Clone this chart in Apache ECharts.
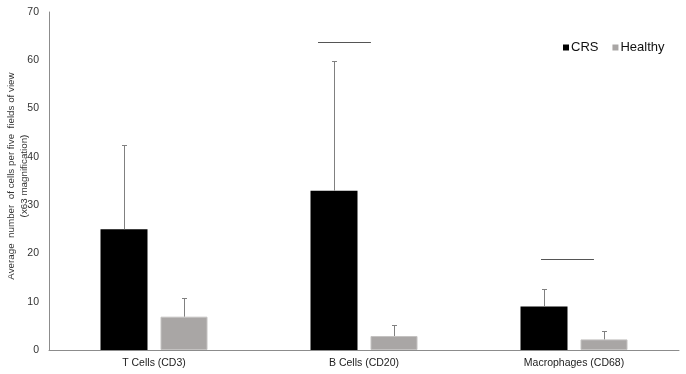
<!DOCTYPE html>
<html><head><meta charset="utf-8">
<script src="https://cdn.jsdelivr.net/npm/echarts@6/dist/echarts.min.js"></script>
<style>html,body{margin:0;padding:0;background:#fff}#c{width:686px;height:374px}</style>
</head><body><div id="c"></div>
<script>
const categories = ['T Cells (CD3)', 'B Cells (CD20)', 'Macrophages (CD68)'];
const crsMean = [25, 33, 9];
const crsUpper = [42.4, 59.9, 12.7];
const healthyMean = [6.9, 2.9, 2.2];
const healthyUpper = [10.7, 5.2, 3.9];
const yTicks = [0, 10, 20, 30, 40, 50, 60, 70];
const yTitle = ['Average  number  of cells per five  fields of view', '(x63 magnification)'];
// significance lines: [start (category units), end (category units), y value]
const sigLines = [[1.281, 1.533, 63.7], [2.343, 2.595, 18.8]];

const BAR_W = 47, GAP = 13;
const OFF = (BAR_W + GAP) / 2;
const FONT = 'Liberation Sans, Arial, sans-serif';

function errSeries(upper, mean, dir) {
  return {
    type: 'custom', xAxisIndex: 0, yAxisIndex: 0, z: 5, silent: true,
    data: upper.map((u, i) => [i, u, mean[i]]),
    renderItem: function (params, api) {
      const top = api.coord([api.value(0), api.value(1)]);
      const bot = api.coord([api.value(0), api.value(2)]);
      const x = Math.round(top[0] + dir * OFF) + 0.5;
      const ty = Math.round(top[1]) + 0.5;
      return {
        type: 'group', children: [
          { type: 'line', shape: { x1: x, y1: ty, x2: x, y2: bot[1] }, style: { stroke: '#808080', lineWidth: 1 } },
          { type: 'line', shape: { x1: x - 2.5, y1: ty, x2: x + 2.5, y2: ty }, style: { stroke: '#808080', lineWidth: 1 } }
        ]
      };
    }
  };
}

const chart = echarts.init(document.getElementById('c'), null, { renderer: 'canvas' });
chart.setOption({
  animation: false,
  backgroundColor: '#fff',
  textStyle: { fontFamily: FONT },
  grid: { left: 49, right: 7, top: 12, bottom: 24, containLabel: false },
  legend: {
    data: ['CRS', 'Healthy'], left: 558, top: 36, itemWidth: 6, itemHeight: 6, itemGap: 14,
    icon: 'rect', itemStyle: { borderWidth: 0 },
    textStyle: { fontSize: 13, color: '#111', fontFamily: FONT, padding: [0, 0, 0, -3] }
  },
  xAxis: [{
    type: 'category', data: categories,
    axisLine: { lineStyle: { color: '#8c8c8c', width: 1 } },
    axisTick: { show: false },
    axisLabel: { fontSize: 10.5, color: '#222', margin: 8, fontFamily: FONT }
  }, {
    type: 'value', min: 0, max: 3, show: false
  }],
  yAxis: {
    type: 'value', min: 0, max: 70, interval: 10,
    axisLine: { show: true, lineStyle: { color: '#8c8c8c', width: 1 } },
    axisTick: { show: false }, splitLine: { show: false },
    axisLabel: { fontSize: 10.5, color: '#333', margin: 10, fontFamily: FONT,
      formatter: v => yTicks.includes(v) ? String(v) : '' }
  },
  graphic: yTitle.map((t, i) => ({
    type: 'text', x: 11 + i * 13, y: 176, rotation: Math.PI / 2,
    style: { text: t, fontSize: 9.8, fontFamily: FONT, fill: '#333', align: 'center', verticalAlign: 'middle' }
  })),
  series: [
    { name: 'CRS', type: 'bar', data: crsMean, barWidth: BAR_W, barGap: (GAP / BAR_W * 100) + '%',
      itemStyle: { color: '#000' } },
    { name: 'Healthy', type: 'bar', data: healthyMean, barWidth: BAR_W,
      itemStyle: { color: '#a9a6a5', borderColor: '#c4c2c1', borderWidth: 1 } },
    errSeries(crsUpper, crsMean, -1),
    errSeries(healthyUpper, healthyMean, 1),
    { type: 'custom', xAxisIndex: 1, yAxisIndex: 0, silent: true, z: 6,
      data: sigLines,
      renderItem: function (params, api) {
        const a = api.coord([api.value(0), api.value(2)]);
        const b = api.coord([api.value(1), api.value(2)]);
        const y = Math.round(a[1]) + 0.5;
        return { type: 'line', shape: { x1: a[0], y1: y, x2: b[0], y2: y }, style: { stroke: '#555', lineWidth: 1 } };
      }
    }
  ]
});
</script></body></html>
